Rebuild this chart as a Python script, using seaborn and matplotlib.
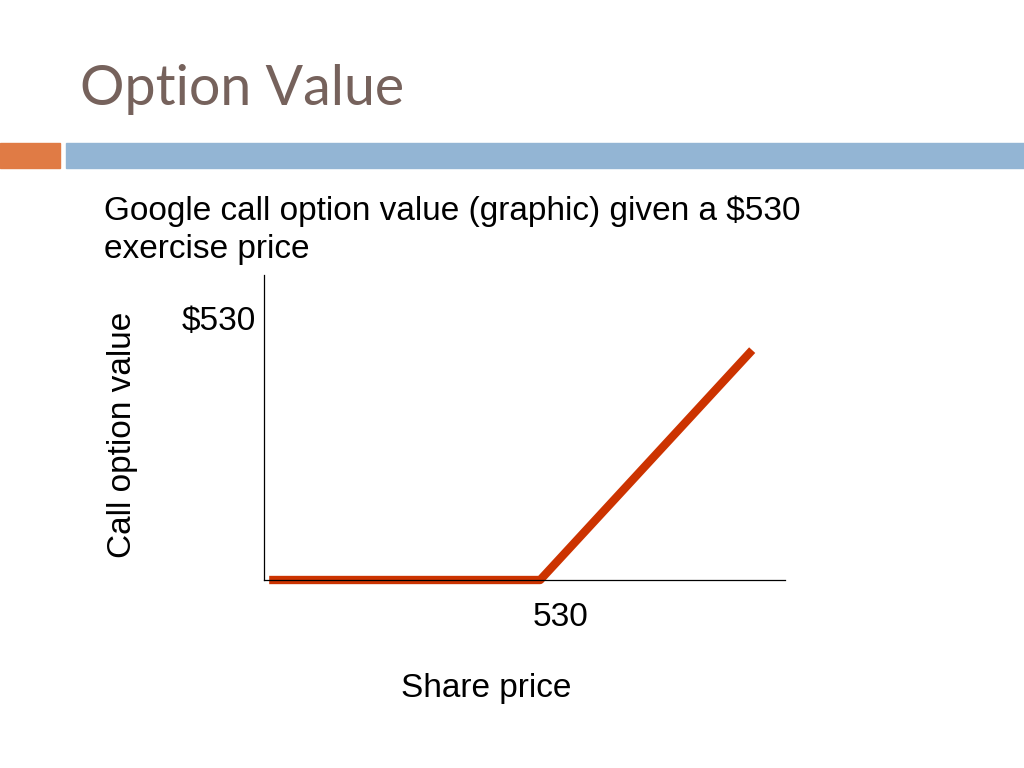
import seaborn as sns
import matplotlib.pyplot as plt
import matplotlib.transforms as mtransforms
import pandas as pd

sns.set_style("white")
plt.rcParams['font.family'] = ['Liberation Sans', 'DejaVu Sans']
plt.rcParams['text.color'] = 'black'
plt.rcParams['axes.labelcolor'] = 'black'
plt.rcParams['xtick.color'] = 'black'
plt.rcParams['ytick.color'] = 'black'

# ----------- Payoff data -----------
share_price = [10, 530, 937]
call_value = [0, 0, 465]
strike = 530

df = pd.DataFrame({"Share price": share_price, "Call option value": call_value})

fig = plt.figure(figsize=(10.24, 7.68), dpi=100)

# slide decoration: orange + blue bars under the title
fig.patches.append(plt.Rectangle((0, 1 - 168 / 768), 60 / 1024, 25 / 768,
                                 transform=fig.transFigure, color="#E07B45", zorder=0))
fig.patches.append(plt.Rectangle((66 / 1024, 1 - 168 / 768), 1 - 66 / 1024, 25 / 768,
                                 transform=fig.transFigure, color="#93B5D4", zorder=0))

fig.text(80 / 1024, 1 - 105 / 768, "Option Value", fontsize=40, color="#76625C",
         family=["Lato", "DejaVu Sans"], va="baseline")
fig.text(104 / 1024, 1 - 258 / 768,
         "Google call option value (graphic) given a $530\nexercise price",
         fontsize=24, color="black", va="baseline", linespacing=1.28)

# ----------- Chart -----------
ax = fig.add_axes([264 / 1024, 1 - 580 / 768, 521 / 1024, 305 / 768])
sns.lineplot(data=df, x="Share price", y="Call option value", ax=ax,
             color="#CC3300", linewidth=6, solid_capstyle="butt", clip_on=False)

ax.set_xlim(0, 1000)
ax.set_ylim(0, 617)
ax.set_xticks([strike])
ax.set_xticklabels(["530"], fontsize=24)
ax.set_yticks([strike])
ax.set_yticklabels(["$530"], fontsize=24)
ax.tick_params(length=0, pad=6)
ax.tick_params(axis="x", pad=16)

# nudge the x tick label a little right, as in the slide
offset = mtransforms.ScaledTranslation(20 / 100, 0, fig.dpi_scale_trans)
for lbl in ax.get_xticklabels():
    lbl.set_transform(lbl.get_transform() + offset)

ax.set_xlabel("Share price", fontsize=24, va="center")
ax.xaxis.set_label_coords((486 - 264) / 521, -(689 - 580) / 305)
ax.set_ylabel("Call option value", fontsize=24, va="center")
ax.yaxis.set_label_coords(-(264 - 122) / 521, (580 - 435) / 305)

for side in ["top", "right"]:
    ax.spines[side].set_visible(False)
for side in ["left", "bottom"]:
    ax.spines[side].set_color("black")
    ax.spines[side].set_linewidth(0.9)

plt.savefig("out.png", dpi=100)
